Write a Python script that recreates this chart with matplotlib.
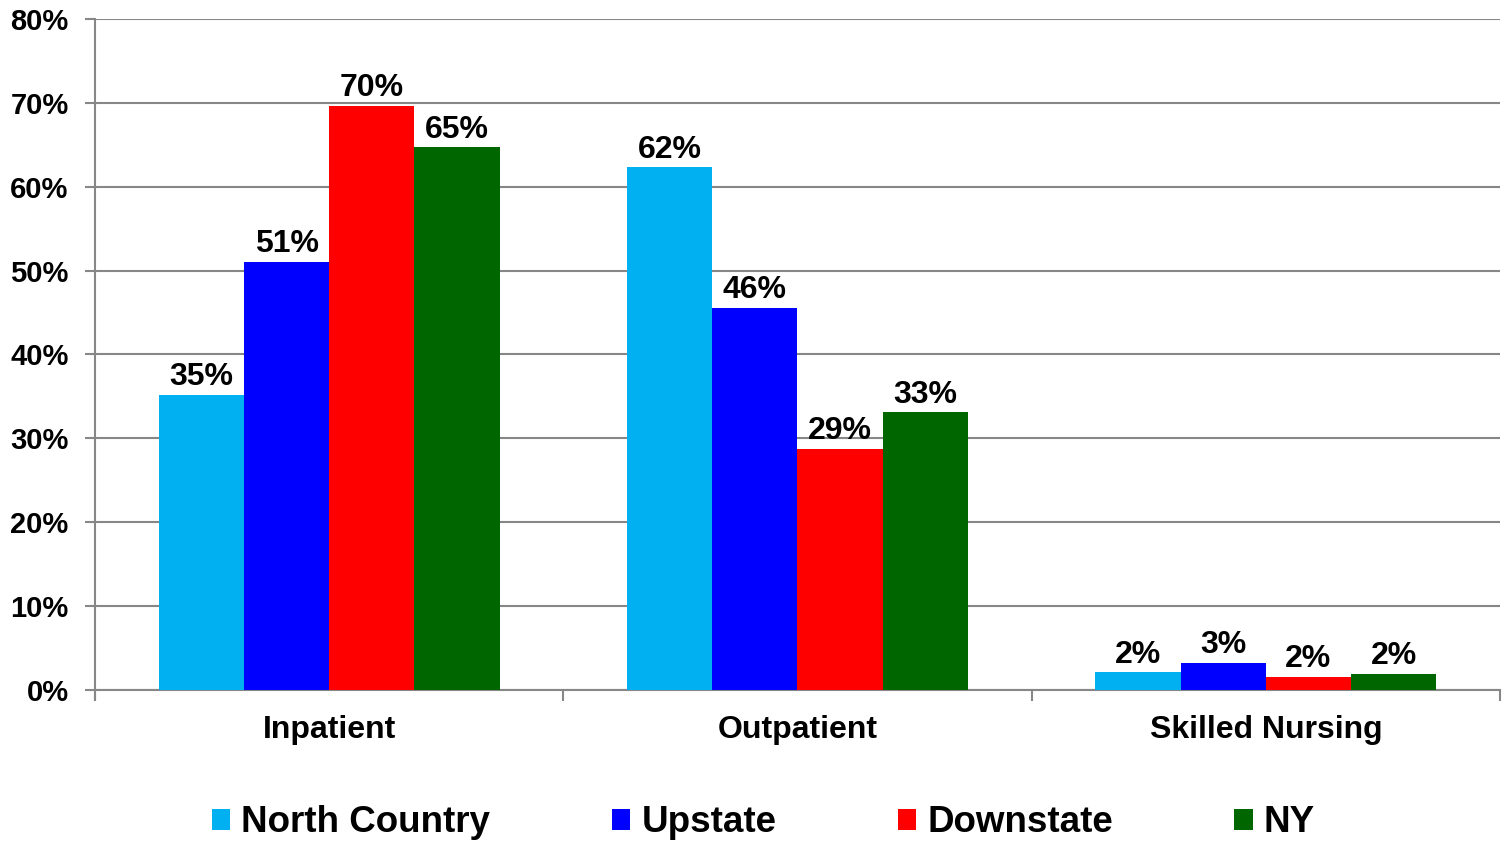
import numpy as np
import matplotlib.pyplot as plt
from matplotlib.patches import Patch

plt.rcParams['font.family'] = ['Liberation Sans', 'DejaVu Sans']
plt.rcParams['font.weight'] = 'bold'

categories = ['Inpatient', 'Outpatient', 'Skilled Nursing']
series = ['North Country', 'Upstate', 'Downstate', 'NY']
north_country = [35.2, 62.3, 2.1]
upstate = [51.0, 45.6, 3.2]
downstate = [69.6, 28.7, 1.6]
ny = [64.7, 33.1, 1.9]
colors = ['#00B0F0', '#0000FF', '#FF0000', '#006600']
yticks = [0, 10, 20, 30, 40, 50, 60, 70, 80]

values = [north_country, upstate, downstate, ny]

fig = plt.figure(figsize=(15.03, 8.44), dpi=100)
ax = fig.add_axes([0.0632, 0.1825, 0.9348, 0.795])

x = np.arange(len(categories))
w = 0.182
grid_c = '#878787'

for i, (vals, c) in enumerate(zip(values, colors)):
    pos = x + (i - 1.5) * w
    bars = ax.bar(pos, vals, width=w, color=c, zorder=3)
    for b, v in zip(bars, vals):
        ax.annotate(f'{v:.0f}%', (b.get_x() + b.get_width() / 2, v),
                    xytext=(0, 2), textcoords='offset points',
                    ha='center', va='bottom', fontsize=23, fontweight='bold')

ax.set_xlim(-0.5, 2.5)
ax.set_ylim(0, 80)
ax.set_yticks(yticks)
ax.set_yticklabels([f'{t}%' for t in yticks], fontsize=21, fontweight='bold')
ax.yaxis.grid(True, color=grid_c, linewidth=1.5, zorder=0)
ax.tick_params(axis='y', length=7, width=1.5, color=grid_c, pad=12)

# category labels between boundary ticks
ax.set_xticks([-0.5, 0.5, 1.5, 2.5])
ax.set_xticklabels([])
ax.set_xticks(x, minor=True)
ax.set_xticklabels(categories, minor=True, fontsize=23, fontweight='bold')
ax.tick_params(axis='x', which='major', length=8, width=1.5, color=grid_c)
ax.tick_params(axis='x', which='minor', length=0, pad=18)

for s in ['top', 'right']:
    ax.spines[s].set_visible(False)
for s in ['left', 'bottom']:
    ax.spines[s].set_color(grid_c)
    ax.spines[s].set_linewidth(1.5)
ax.spines['left'].set_bounds(-1.2, 80)

handles = [Patch(facecolor=c, label=s) for c, s in zip(colors, series)]
fig.legend(handles=handles, loc='center', bbox_to_anchor=(0.508, 0.025),
           ncol=4, frameon=False, fontsize=26.5, handlelength=0.5,
           handleheight=0.5, handletextpad=0.3, columnspacing=3.3)

fig.savefig('out.png', dpi=100)
